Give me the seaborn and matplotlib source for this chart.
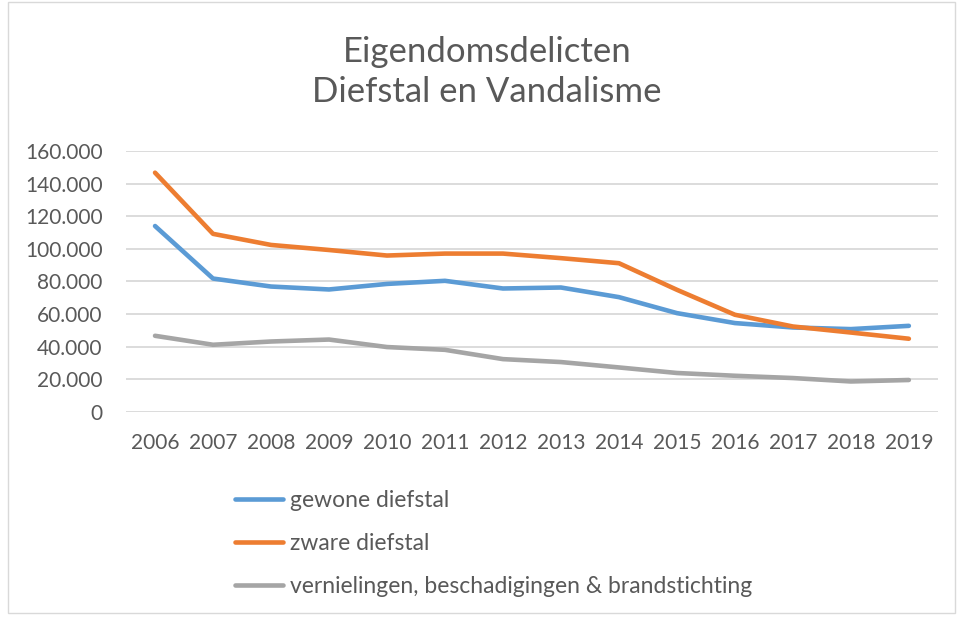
import numpy as np
import pandas as pd
import matplotlib
matplotlib.use("Agg")
import matplotlib.pyplot as plt
import matplotlib.patches as mpatches
from matplotlib.lines import Line2D
from matplotlib.ticker import FuncFormatter, MultipleLocator
import seaborn as sns

# ── data ──────────────────────────────────────────────────────────────────────
years = [2006, 2007, 2008, 2009, 2010, 2011, 2012,
         2013, 2014, 2015, 2016, 2017, 2018, 2019]
gewone = [114000, 81800, 76900, 75100, 78500, 80400, 75700,
          76300, 70400, 60600, 54500, 51800, 50800, 52800]
zware = [146700, 109200, 102400, 99300, 95900, 97100, 97100,
         94300, 91200, 74900, 59600, 52400, 48700, 44900]
vernielingen = [46700, 41200, 43200, 44400, 39800, 38100, 32400,
                30600, 27300, 23900, 22200, 20800, 18700, 19600]

series_names = ["gewone diefstal", "zware diefstal",
                "vernielingen, beschadigingen & brandstichting"]
colors = ["#5B9BD5", "#ED7D31", "#A5A5A5"]

df = pd.DataFrame({
    "jaar": list(range(len(years))) * 3,
    "aantal": gewone + zware + vernielingen,
    "reeks": np.repeat(series_names, len(years)),
})

# ── style ─────────────────────────────────────────────────────────────────────
sns.set_theme(style="white")
plt.rcParams["font.family"] = ["Lato", "DejaVu Sans"]
txt_col = "#595959"

fig = plt.figure(figsize=(9.57, 6.17), dpi=100)
ax = fig.add_axes([0.1317, 0.3323, 0.8483, 0.4230])

sns.lineplot(data=df, x="jaar", y="aantal", hue="reeks",
             palette=dict(zip(series_names, colors)), linewidth=3.3,
             legend=False, ax=ax, solid_capstyle="round")

ax.set_xlim(-0.5, len(years) - 0.5)
ax.set_ylim(0, 160000)
ax.yaxis.set_major_locator(MultipleLocator(20000))
ax.yaxis.set_major_formatter(FuncFormatter(
    lambda v, p: f"{int(v):,}".replace(",", ".")))
ax.set_xticks(range(len(years)))
ax.set_xticklabels([str(y) for y in years])
ax.grid(axis="y", color="#D9D9D9", linewidth=1.3)
ax.set_axisbelow(True)
for s in ax.spines.values():
    s.set_visible(False)
ax.tick_params(axis="both", length=0, labelsize=15, colors=txt_col)
ax.tick_params(axis="y", pad=17)
ax.tick_params(axis="x", pad=15)
ax.set_xlabel("")
ax.set_ylabel("")

# title
fig.text(0.509, 0.900, "Eigendomsdelicten", ha="center", va="baseline",
         fontsize=25, color=txt_col)
fig.text(0.509, 0.835, "Diefstal en Vandalisme", ha="center", va="baseline",
         fontsize=25, color=txt_col)

# legend below the plot
handles = [Line2D([], [], color=c, linewidth=3.3, solid_capstyle="round")
           for c in colors]
fig.legend(handles, series_names, loc="upper left",
           bbox_to_anchor=(0.224, 0.239), frameon=False, fontsize=16.5,
           labelcolor=txt_col, handlelength=2.1, handletextpad=0.3,
           labelspacing=0.96)

# chart-area border
fig.patches.append(mpatches.Rectangle((0.008, 0.006), 0.99, 0.99,
                                      transform=fig.transFigure, fill=False,
                                      edgecolor="#D9D9D9", linewidth=1))

fig.savefig("out.png", dpi=100)
